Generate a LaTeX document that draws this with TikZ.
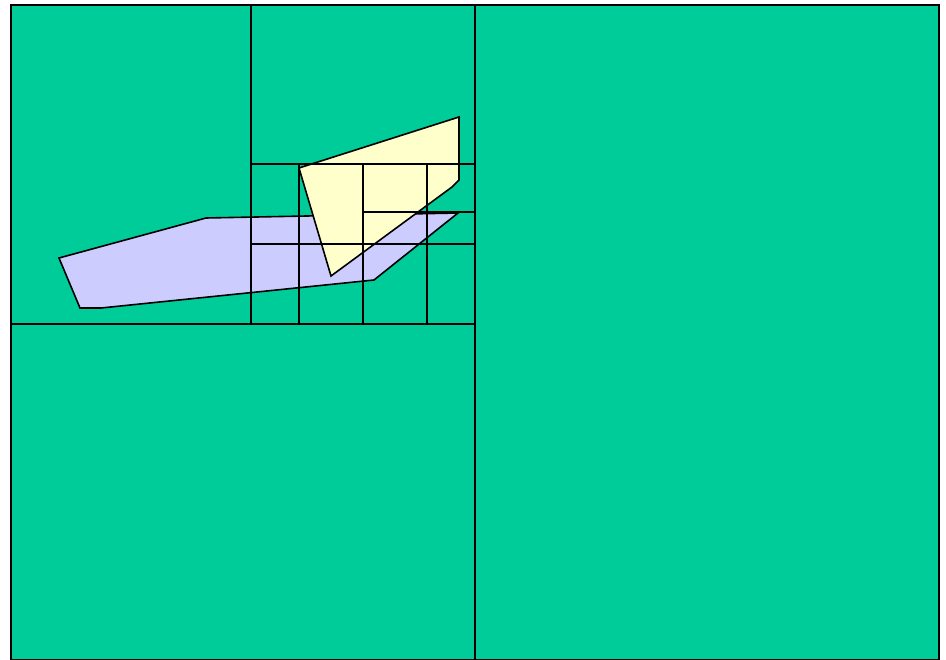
\documentclass[tikz,border=0pt]{standalone}
\usepackage{tikz}
\definecolor{qtGreen}{HTML}{00CC99}
\definecolor{qtYellow}{HTML}{FFFFCC}
\definecolor{qtLilac}{HTML}{CCCCFF}
\tikzset{
  cell/.style={draw=black, line width=2pt, fill=qtGreen},
  gridline/.style={draw=black, line width=2pt},
  region/.style={draw=black, line width=1.6pt, line join=miter}
}
\begin{document}
\begin{tikzpicture}[x=1pt, y=-1pt]
  \useasboundingbox (0,0) rectangle (946,660);
  % quadtree cells
  \path[cell] (11,5) rectangle (939,660);
  % polygons
  \path[region, fill=qtLilac] (59,258) -- (206,218) -- (458,213) -- (374,280) -- (101,308) -- (80,308) -- cycle;
  \path[region, fill=qtYellow] (299,168) -- (459,117) -- (459,180) -- (452,187) -- (331,276) -- cycle;
  % subdivisions
  \draw[gridline] (475,5) -- (475,660);
  \draw[gridline] (11,324) -- (475,324);
  \draw[gridline] (251,5) -- (251,324);
  \draw[gridline] (251,164) -- (475,164);
  \draw[gridline] (251,244) -- (475,244);
  \draw[gridline] (363,212) -- (475,212);
  \foreach \xv in {299,363,427}
    \draw[gridline] (\xv,164) -- (\xv,324);
\end{tikzpicture}
\end{document}
